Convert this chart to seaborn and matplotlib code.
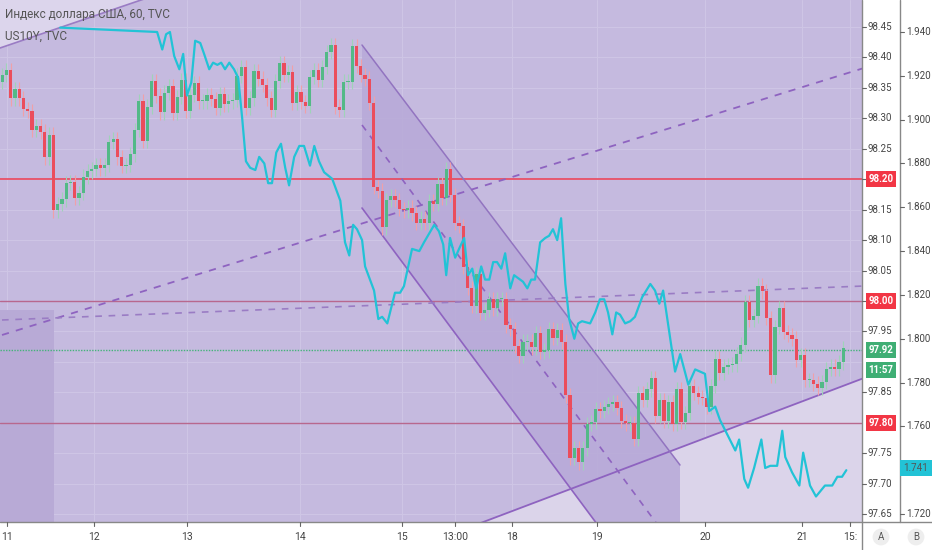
import numpy as np
import pandas as pd
import matplotlib
matplotlib.use('Agg')
import matplotlib.pyplot as plt
import matplotlib.transforms as mtransforms
from matplotlib.patches import Polygon
import seaborn as sns

# DXY hourly closes, open = previous close
closes = [
    98.371, 98.379, 98.333, 98.348, 98.333, 98.315, 98.312, 98.281, 98.287, 98.278,
    98.236, 98.273, 98.149, 98.159, 98.167, 98.194, 98.195, 98.169, 98.177, 98.204,
    98.213, 98.217, 98.223, 98.218, 98.223, 98.261, 98.266, 98.236, 98.222, 98.223,
    98.241, 98.281, 98.328, 98.263,
    98.319, 98.361, 98.337, 98.310, 98.342, 98.353, 98.309, 98.335, 98.363, 98.312,
    98.338, 98.358, 98.328, 98.328, 98.338, 98.332, 98.317, 98.340, 98.323, 98.328,
    98.330, 98.370, 98.384, 98.317, 98.333, 98.378, 98.365, 98.355, 98.333, 98.314,
    98.361, 98.391, 98.371,
    98.376, 98.325, 98.343, 98.327, 98.320, 98.368, 98.379, 98.363, 98.384, 98.409,
    98.420, 98.319, 98.314, 98.360, 98.360, 98.419, 98.386, 98.371, 98.365, 98.325,
    98.187, 98.181, 98.121, 98.166, 98.172, 98.166, 98.151, 98.149, 98.153, 98.144,
    98.128, 98.135, 98.128, 98.164, 98.159, 98.192, 98.169, 98.217, 98.174, 98.128,
    98.123, 98.056, 98.021, 97.992, 98.044, 97.980, 97.985, 98.003, 97.988, 98.003,
    98.003, 97.960, 97.954, 97.926, 97.910, 97.933, 97.933, 97.924, 97.947, 97.916,
    97.919, 97.954, 97.939, 97.952, 97.933, 97.845, 97.742,
    97.758, 97.735, 97.758, 97.798, 97.801, 97.822, 97.819, 97.826, 97.831, 97.834,
    97.824, 97.803, 97.799, 97.799, 97.773, 97.849, 97.837, 97.855, 97.873, 97.811,
    97.837, 97.803, 97.834, 97.798, 97.855, 97.801, 97.816, 97.860, 97.849, 97.842,
    97.841, 97.826, 97.860, 97.905, 97.882, 97.892, 97.895, 97.896, 97.913, 97.928,
    97.998, 97.969, 97.975, 98.025, 98.016, 97.972, 97.878, 97.957, 97.988, 97.949,
    97.944, 97.938, 97.903, 97.911, 97.870, 97.870, 97.864, 97.857, 97.867, 97.888,
    97.892, 97.888, 97.899, 97.923,
]
first_open = 98.360

# US10Y yield, position in bars and value
y10_pos = [13.6, 36.3, 37.5, 38.4, 39.3, 40.3, 41.5, 42.4, 43.3, 44.3, 45.2, 46.4, 47.3, 48.5,
           49.4, 50.4, 51.3, 52.2, 53.2, 54.3, 55.3, 56.2, 57.1, 58.1, 59.3, 60.2, 61.4, 62.3,
           63.2, 64.2, 65.3, 66.3, 67.2, 68.4, 69.6, 70.7, 72.1, 73.1, 74.2, 75.4, 77.3, 79.2,
           80.3, 81.3, 82.2, 83.1, 84.3, 85.0, 87.1, 88.1, 89.0, 90.2, 92.0, 93.2, 94.1, 96.0,
           97.7, 98.8, 101.2, 102.3, 103.3, 104.0, 104.9, 106.1, 107.0, 108.2, 109.1, 110.1,
           111.0, 112.2, 113.1, 114.1, 115.0, 115.9, 116.9, 117.8, 119.0, 119.9, 122.0, 123.0,
           123.9, 124.8, 126.0, 127.2, 128.1, 129.0, 130.0, 130.9, 131.9, 132.8, 134.0, 134.9,
           135.8, 137.7, 138.9, 140.0, 141.0, 141.9, 142.9, 143.8, 144.7, 145.9, 147.1, 148.2,
           149.9, 151.8, 152.9, 153.9, 154.8, 156.0, 157.6, 158.8, 160.7, 162.3, 164.6, 165.6,
           167.0, 168.1, 171.7, 172.6, 173.8, 174.7, 176.1, 177.8, 178.7, 179.9, 181.5, 182.7,
           183.4, 185.0, 186.7, 187.6, 189.2, 190.6, 192.7, 194.4, 195.6, 196.7, 197.7]
y10_val = [1.942, 1.940, 1.932, 1.939, 1.940, 1.929, 1.923, 1.930, 1.911, 1.917, 1.936, 1.935,
           1.930, 1.923, 1.926, 1.925, 1.926, 1.923, 1.926, 1.923, 1.919, 1.901, 1.881, 1.878,
           1.877, 1.883, 1.880, 1.871, 1.871, 1.885, 1.889, 1.878, 1.870, 1.883, 1.888, 1.888,
           1.879, 1.888, 1.881, 1.876, 1.873, 1.863, 1.844, 1.838, 1.852, 1.850, 1.845, 1.833,
           1.822, 1.809, 1.810, 1.807, 1.821, 1.821, 1.824, 1.841, 1.840, 1.844, 1.852, 1.849,
           1.843, 1.829, 1.846, 1.837, 1.841, 1.846, 1.829, 1.832, 1.823, 1.833, 1.827, 1.827,
           1.835, 1.835, 1.832, 1.839, 1.823, 1.829, 1.826, 1.823, 1.827, 1.827, 1.844, 1.846,
           1.847, 1.850, 1.845, 1.855, 1.825, 1.809, 1.800, 1.807, 1.808, 1.807, 1.812, 1.818,
           1.818, 1.812, 1.802, 1.812, 1.811, 1.807, 1.808, 1.810, 1.819, 1.825, 1.822, 1.816,
           1.822, 1.806, 1.785, 1.793, 1.779, 1.786, 1.784, 1.767, 1.769, 1.763, 1.749, 1.754,
           1.736, 1.732, 1.741, 1.754, 1.741, 1.742, 1.742, 1.758, 1.746, 1.739, 1.733, 1.748,
           1.733, 1.728, 1.733, 1.733, 1.737, 1.737, 1.740]

x_tick_pos = [1.2, 21.5, 43.3, 69.8, 93.7, 106.0, 119.4, 139.3, 164.6, 187.4, 198.6]
x_tick_labels = ['11', '12', '13', '14', '15', '13:00', '18', '19', '20', '21', '15:']
price_ticks = [98.45, 98.40, 98.35, 98.30, 98.25, 98.20, 98.15, 98.10, 98.05, 98.00,
               97.95, 97.85, 97.75, 97.70, 97.65]
yield_ticks = [1.940, 1.920, 1.900, 1.880, 1.860, 1.840, 1.820, 1.800, 1.780, 1.760, 1.720]
red_levels = [98.20, 98.00, 97.80]
last_price = 97.92
last_yield = 1.741

sns.set_theme(style='white')
plt.rcParams['font.family'] = ['Roboto', 'DejaVu Sans']

df = pd.DataFrame({'close': closes})
df['open'] = [first_open] + closes[:-1]
df['idx'] = np.arange(len(df))
df['up'] = df['close'] >= df['open']
df['hi'] = df[['open', 'close']].max(axis=1) + 0.012
df['lo'] = df[['open', 'close']].min(axis=1) - 0.012

UP, DN = '#53b987', '#eb4d5c'
BG = '#c5badf'

fig = plt.figure(figsize=(9.32, 5.5), dpi=100)
W, H = 932, 550
ax = fig.add_axes([0, 28 / H, 862 / W, 522 / H])
ax.set_facecolor(BG)
px = 4.27
ax.set_xlim(-0.5, 862 / px - 0.5)
p_lo, p_hi = 98.45 - 495 / 608.75, 98.45 + 27 / 608.75
ax.set_ylim(p_lo, p_hi)

# grid
for t in price_ticks + [97.90, 97.80]:
    ax.axhline(t, color='#cec5e5', lw=0.8, zorder=0)
for t in x_tick_pos:
    ax.axvline(t, color='#cec5e5', lw=0.8, zorder=0)

def pt(xp, yp):
    # drawing tools anchored in chart pixel space
    return ((xp + 2) / px - 0.5, 98.45 - (yp - 27) / 608.75)

# drawings
ax.add_patch(Polygon([pt(-2, 48), pt(145, -2), pt(-2, -2)], closed=True,
                     fc='#dcd5ec', ec='none', zorder=1))
ax.plot(*zip(pt(-2, 48), pt(145, -2)), color='#9a7cc4', lw=1.2, zorder=2)
ax.add_patch(Polygon([pt(-2, 310), pt(52, 310), pt(52, 524), pt(-2, 524)], closed=True,
                     fc='#b8aad6', ec='none', zorder=1))
ax.add_patch(Polygon([pt(476, 524), pt(862, 378), pt(862, 524)], closed=True,
                     fc='#dbd4ea', ec='none', zorder=1))
ax.plot(*zip(pt(476, 524), pt(862, 378)), color='#8e63c0', lw=1.3, zorder=3)
ax.add_patch(Polygon([pt(360, 45), pt(678, 465), pt(678, 524), pt(595, 524), pt(360, 208)],
                     closed=True, fc='#b7a9d8', ec='none', alpha=0.85, zorder=1))
ax.plot(*zip(pt(360, 45), pt(678, 465)), color='#9274c0', lw=1.1, zorder=3)
ax.plot(*zip(pt(360, 208), pt(595, 524)), color='#8e63c0', lw=1.2, zorder=3)
ax.plot(*zip(pt(360, 125), pt(655, 524)), color='#8e63c0', lw=1.2, ls=(0, (4, 4)), zorder=3)
ax.plot(*zip(pt(0, 335), pt(862, 68)), color='#8e63c0', lw=1.3, ls=(0, (4, 4)), zorder=3)
ax.plot(*zip(pt(0, 320), pt(862, 286)), color='#9a7cc4', lw=1.2, ls=(0, (4, 4)), zorder=3)

ax.axhline(red_levels[0], color='#ee3d50', lw=1.1, zorder=2)
for lv in red_levels[1:]:
    ax.axhline(lv, color='#b8688e', lw=1.0, zorder=2)
ax.axhline(last_price, color='#44b37a', lw=1.0, ls=(0, (1, 1)), zorder=2)

# candles
ax.vlines(df['idx'], df['lo'], df['hi'],
          colors=np.where(df['up'], '#9fd3b8', '#f0a0a8'), lw=0.8, zorder=4)
ax.bar(df['idx'], (df['close'] - df['open']).abs().clip(lower=0.002),
       bottom=df[['open', 'close']].min(axis=1), width=0.75,
       color=np.where(df['up'], UP, DN), edgecolor='none', linewidth=0, zorder=5)

# yield line on its own scale
ax2 = ax.twinx()
y_lo, y_hi = 1.940 - 490 / 2191, 1.940 + 32 / 2191
ax2.set_ylim(y_lo, y_hi)
sns.lineplot(x=y10_pos, y=y10_val, ax=ax2, color='#22c3d6', lw=1.6, zorder=6)
ax2.set_xlim(ax.get_xlim())

for a in (ax, ax2):
    a.set_xticks([])
    a.set_yticks([])
    for s in a.spines.values():
        s.set_visible(False)

ax.text(0.006, 0.972, 'Индекс доллара США, 60, TVC', transform=ax.transAxes,
        fontsize=8.5, color='#555555', va='center', zorder=8)
ax.text(0.006, 0.930, 'US10Y, TVC', transform=ax.transAxes,
        fontsize=8.5, color='#555555', va='center', zorder=8)

# right scales
trP = mtransforms.blended_transform_factory(fig.transFigure, ax.transData)
trY = mtransforms.blended_transform_factory(fig.transFigure, ax2.transData)
fig.add_artist(plt.Line2D([862 / W] * 2, [0, 1], color='#888888', lw=1))
fig.add_artist(plt.Line2D([900 / W] * 2, [28 / H, 1], color='#888888', lw=1))
fig.add_artist(plt.Line2D([0, 1], [28 / H] * 2, color='#888888', lw=1))
for t in price_ticks:
    fig.text(868 / W, t, f'{t:.2f}', transform=trP, fontsize=7, color='#444444', va='center')
    fig.add_artist(plt.Line2D([862 / W, 866 / W], [t, t], transform=trP, color='#666666', lw=0.8))
for t in yield_ticks:
    fig.text(906 / W, t, f'{t:.3f}', transform=trY, fontsize=7, color='#444444', va='center')
    fig.add_artist(plt.Line2D([900 / W, 904 / W], [t, t], transform=trY, color='#666666', lw=0.8))
for lv in red_levels:
    fig.text(881 / W, lv, f'{lv:.2f}', transform=trP, fontsize=7, color='white', va='center',
             ha='center', weight='bold',
             bbox=dict(boxstyle='square,pad=0.3', fc='#f23645', ec='none'))
fig.text(881 / W, last_price, f'{last_price:.2f}', transform=trP, fontsize=7, color='white',
         va='center', ha='center', weight='bold',
         bbox=dict(boxstyle='square,pad=0.3', fc='#3fae74', ec='none'))
fig.text(881 / W, last_price - 0.034, '11:57', transform=trP, fontsize=7, color='white',
         va='center', ha='center', weight='bold',
         bbox=dict(boxstyle='square,pad=0.3', fc='#3fae74', ec='none'))
fig.text(916 / W, last_yield, f'{last_yield:.3f}', transform=trY, fontsize=7, color='#555555',
         va='center', ha='center',
         bbox=dict(boxstyle='square,pad=0.35', fc='#22c3d6', ec='none'))

# bottom time scale
trX = mtransforms.blended_transform_factory(ax.transData, fig.transFigure)
for p, lab in zip(x_tick_pos, x_tick_labels):
    fig.text(p, 13 / H, lab, transform=trX, fontsize=7.5, color='#444444', ha='center', va='center')
    fig.add_artist(plt.Line2D([p, p], [28 / H, 24 / H], transform=trX, color='#666666', lw=0.8))
for xx, lab in [(881, 'A'), (916, 'B')]:
    fig.text(xx / W, 13 / H, lab, fontsize=7, color='#555555', ha='center', va='center',
             bbox=dict(boxstyle='circle,pad=0.35', fc='#eeeeee', ec='none'))

fig.savefig('out.png', dpi=100, facecolor='white')
